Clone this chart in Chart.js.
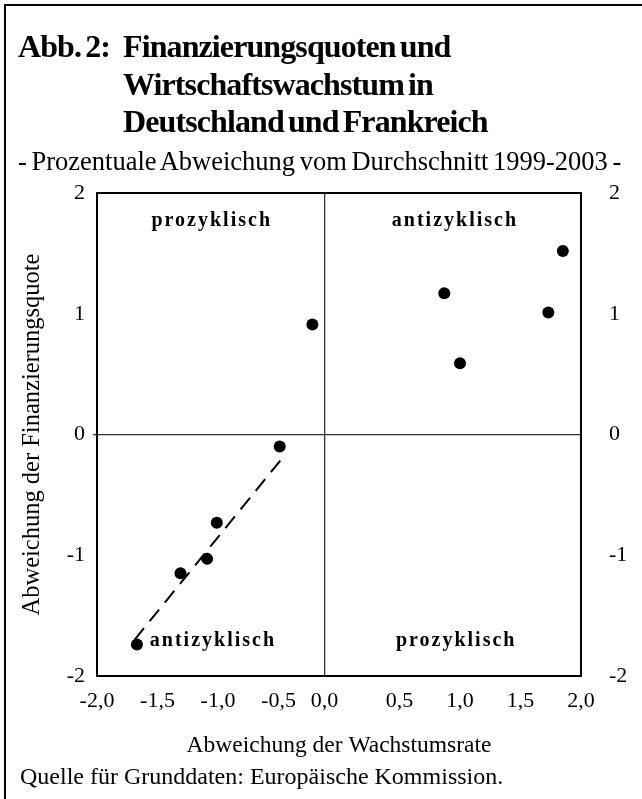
<!DOCTYPE html>
<html lang="de">
<head>
<meta charset="utf-8">
<title>Abb. 2: Finanzierungsquoten und Wirtschaftswachstum</title>
<script src="https://cdn.jsdelivr.net/npm/chart.js@4.4.1/dist/chart.umd.min.js"></script>
<style>
    html, body {
        margin: 0;
        padding: 0;
        background: #fff;
    }
    body {
        position: relative;
        width: 642px;
        height: 799px;
        overflow: hidden;
        font-family: "Liberation Serif", "Times New Roman", serif;
        color: #000;
    }
    #frame {
        position: absolute;
        left: 4px;
        top: 4px;
        width: 700px;
        height: 900px;
        border: 2px solid #000;
    }
    #chartBox {
        position: absolute;
        left: 0;
        top: 0;
        width: 642px;
        height: 799px;
    }
    #title {
        position: absolute;
        left: 18px;
        top: 28px;
        display: flex;
        font-weight: bold;
        font-size: 32px;
        line-height: 37.5px;
        letter-spacing: -0.9px;
        word-spacing: -3px;
        white-space: nowrap;
    }
    #title .lbl { width: 105px; }
    #subtitle {
        position: absolute;
        left: 18px;
        top: 148px;
        font-size: 26.5px;
        line-height: 26px;
        word-spacing: -2px;
        white-space: nowrap;
    }
    #source {
        position: absolute;
        left: 20px;
        top: 764px;
        font-size: 24px;
        line-height: 24px;
        white-space: nowrap;
    }
</style>
</head>
<body>
<div id="frame"></div>
<div id="chartBox"><canvas id="scatterChart" width="642" height="799"></canvas></div>
<div id="title">
    <div class="lbl">Abb. 2:</div>
    <div class="txt">Finanzierungsquoten und<br>Wirtschaftswachstum in<br>Deutschland und Frankreich</div>
</div>
<div id="subtitle">- Prozentuale Abweichung vom Durchschnitt 1999-2003 -</div>
<div id="source">Quelle für Grunddaten: Europäische Kommission.</div>

<script>
// Abweichung der Wachstumsrate (x) / der Finanzierungsquote (y)
const wachstum = [-0.22, 1.85, 0.87, 1.73, 1.00, -0.49, -1.01, -1.09, -1.31, -1.67];
const finanzierung = [0.91, 1.52, 1.17, 1.01, 0.59, -0.10, -0.73, -1.03, -1.15, -1.74];

// gestrichelte Trendlinie
const trendX = [-1.69, -0.48];
const trendY = [-1.70, -0.21];

// x-Achse: die "0,0"-Linie steht im Original leicht links von 0
const xTickValues = [-2, -1.5, -1, -0.5, -0.12, 0.5, 1, 1.5, 2];
const xTickLabels = ['-2,0', '-1,5', '-1,0', '-0,5', '0,0', '0,5', '1,0', '1,5', '2,0'];
const yTickValues = [-2, -1, 0, 1, 2];

// Quadranten-Beschriftung
const quadrantLabels = ['prozyklisch', 'antizyklisch', 'antizyklisch', 'prozyklisch'];
const quadrantX = [-1.06, 0.95, -1.05, 0.96];
const quadrantY = [1.77, 1.77, -1.71, -1.71];

const serif = '"Liberation Serif", "Times New Roman", serif';

const quadrantPlugin = {
    id: 'quadrantLabels',
    afterDatasetsDraw(chart) {
        const { ctx, scales } = chart;
        ctx.save();
        ctx.font = 'bold 20px ' + serif;
        ctx.fillStyle = '#000';
        ctx.textAlign = 'center';
        ctx.textBaseline = 'middle';
        if ('letterSpacing' in ctx) ctx.letterSpacing = '2px';
        quadrantLabels.forEach((label, i) => {
            ctx.fillText(label, scales.x.getPixelForValue(quadrantX[i]) + 1, scales.y.getPixelForValue(quadrantY[i]));
        });
        ctx.restore();
    }
};

const setTicks = (values) => (axis) => {
    axis.ticks = values.map(v => ({ value: v }));
};

const ctx = document.getElementById('scatterChart').getContext('2d');
new Chart(ctx, {
    type: 'scatter',
    data: {
        datasets: [{
            label: 'Trend',
            type: 'line',
            data: trendX.map((x, i) => ({ x: x, y: trendY[i] })),
            borderColor: '#000',
            borderWidth: 2,
            borderDash: [15, 9],
            pointRadius: 0,
            fill: false,
            order: 2
        }, {
            label: 'Abweichung',
            data: wachstum.map((x, i) => ({ x: x, y: finanzierung[i] })),
            backgroundColor: '#000',
            borderColor: '#000',
            borderWidth: 0,
            pointRadius: 6,
            order: 1
        }]
    },
    options: {
        responsive: false,
        devicePixelRatio: 1,
        animation: false,
        layout: { padding: { top: 193, left: 0, right: 0, bottom: 0 } },
        plugins: {
            legend: { display: false },
            tooltip: { enabled: false }
        },
        scales: {
            x: {
                type: 'linear',
                position: 'bottom',
                min: -2,
                max: 2,
                afterBuildTicks: setTicks(xTickValues),
                afterFit: (s) => { s.height = 123; },
                ticks: {
                    padding: 12,
                    color: '#000',
                    font: { family: serif, size: 22 },
                    maxRotation: 0,
                    autoSkip: false,
                    callback: (value, index) => xTickLabels[index]
                },
                grid: {
                    drawTicks: false,
                    lineWidth: 1.3,
                    color: (c) => (c.tick && c.tick.value === -0.12 ? '#333' : 'rgba(0,0,0,0)')
                },
                border: { display: true, color: '#000', width: 2 },
                title: {
                    display: true,
                    text: 'Abweichung der Wachstumsrate',
                    color: '#000',
                    font: { family: serif, size: 23.5 },
                    padding: { top: 0, bottom: 39 }
                }
            },
            x2: {
                type: 'linear',
                position: 'top',
                min: -2,
                max: 2,
                afterFit: (s) => { s.height = 0; },
                ticks: { display: false },
                grid: { display: false, drawTicks: false },
                border: { display: true, color: '#000', width: 2 }
            },
            y: {
                type: 'linear',
                position: 'left',
                min: -2,
                max: 2,
                afterBuildTicks: setTicks(yTickValues),
                afterFit: (s) => { s.width = 97; },
                ticks: {
                    padding: 8,
                    color: '#000',
                    font: { family: serif, size: 22 }
                },
                grid: {
                    drawTicks: true,
                    tickLength: 4,
                    lineWidth: 1.3,
                    color: (c) => (c.tick && c.tick.value === 0 ? '#333' : 'rgba(0,0,0,0)'),
                    tickColor: (c) => (c.tick && c.tick.value === 0 ? '#333' : 'rgba(0,0,0,0)')
                },
                border: { display: true, color: '#000', width: 2 },
                title: {
                    display: true,
                    text: 'Abweichung der Finanzierungsquote',
                    color: '#000',
                    font: { family: serif, size: 24.5 },
                    padding: { top: 18, bottom: 0 }
                }
            },
            y2: {
                type: 'linear',
                position: 'right',
                min: -2,
                max: 2,
                afterBuildTicks: setTicks(yTickValues),
                afterFit: (s) => { s.width = 61; },
                ticks: {
                    padding: 28,
                    color: '#000',
                    font: { family: serif, size: 22 }
                },
                grid: { display: false, drawTicks: false },
                border: { display: true, color: '#000', width: 2 }
            }
        }
    },
    plugins: [quadrantPlugin]
});
</script>
</body>
</html>
